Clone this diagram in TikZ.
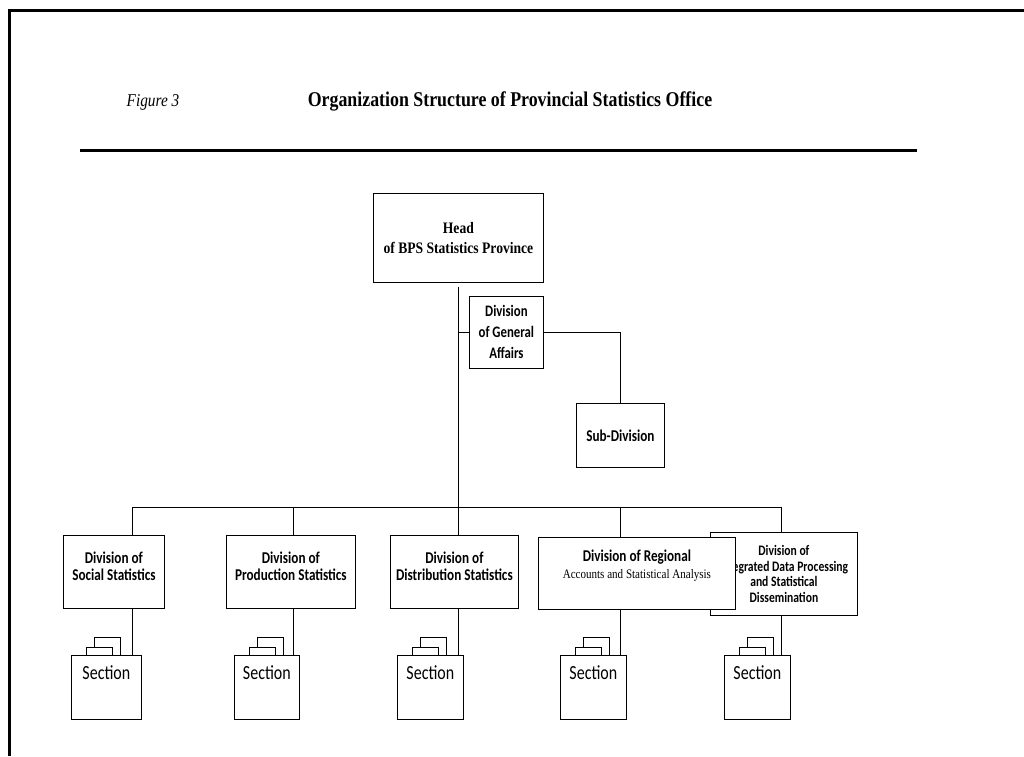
\documentclass[tikz,border=0pt]{standalone}
\usepackage{fontspec}
\setmainfont{Liberation Serif}[FakeStretch=0.85]
\newfontfamily\boxfont{Carlito}[FakeStretch=0.8]

\begin{document}
\begin{tikzpicture}[x=1pt,y=1pt,line width=.8pt,
  box/.style={draw,fill=white,inner sep=0pt,anchor=north west,align=center},
  divbox/.style={box,minimum height=73pt,font=\boxfont\bfseries\fontsize{16.5}{17}\selectfont},
  secbox/.style={box,minimum width=66pt,minimum height=64pt,font=\boxfont\fontsize{20}{20}\selectfont,text height=13pt,text depth=29pt},
  tab/.style={draw,fill=white}]
\useasboundingbox (0,0) rectangle (1024,-756);
\draw[line width=3pt] (9,-756) -- (9,-10) -- (1024,-10);
\node (fig) [anchor=base,font=\itshape\fontsize{18}{18}\selectfont] at (153,-106) {Figure 3};
\node (title) [anchor=base,font=\bfseries\fontsize{21}{21}\selectfont] at (510,-106) {Organization Structure of Provincial Statistics Office};
\draw[line width=3pt] (80,-150) -- (917,-150);

\node (head) [box,minimum width=170pt,minimum height=89pt,font=\bfseries\fontsize{16}{20}\selectfont] at (373,-193) {Head\\of BPS Statistics Province};
\node (gen) [box,minimum width=74pt,minimum height=72pt,font=\boxfont\bfseries\fontsize{16}{21}\selectfont] at (469,-296) {Division\\of General\\Affairs};
\node (sub) [divbox,minimum width=88pt,minimum height=64pt] at (576,-403) {Sub-Division};

\node (soc) [divbox,minimum width=101pt] at (63,-535) {Division of\\Social Statistics\\[-5pt]\mbox{}};
\node (prod) [divbox,minimum width=129pt] at (226,-535) {Division of\\Production Statistics\\[-5pt]\mbox{}};
\node (dist) [divbox,minimum width=128pt] at (390,-535) {Division of\\Distribution Statistics\\[-5pt]\mbox{}};
\node (integ) [divbox,minimum width=147pt,minimum height=83pt,font=\boxfont\bfseries\fontsize{14.5}{15.5}\selectfont] at (710,-532) {Division of\\Integrated Data Processing\\and Statistical\\Dissemination};
\node (reg) [divbox,minimum width=197pt,minimum height=72pt] at (538,-537) {Division of Regional\\{\rmfamily\mdseries\fontsize{13}{13}\selectfont Accounts and Statistical Analysis}\\[1pt]\mbox{}};

\node (sec1) [secbox,minimum width=70pt] at (71,-655) {Section};
\node (sec2) [secbox,minimum width=65pt] at (234,-655) {Section};
\node (sec3) [secbox] at (397,-655) {Section};
\node (sec4) [secbox] at (560,-655) {Section};
\node (sec5) [secbox] at (724,-655) {Section};

\coordinate (b1) at (132,-507);
\coordinate (b2) at (293,-507);
\coordinate (b3) at (head.south |- b1);
\coordinate (b4) at (sub.north |- b1);
\coordinate (b5) at (781,-507);

\draw[shorten <=4pt] (head.south) -- (b3);
\draw (gen.west) -- (gen.west -| head.south);
\draw (gen.east) -| (sub.north);
\draw (b1) -- (b5);

\draw (b1) -- (b1 |- soc.north);
\draw (b1 |- soc.south) -- (b1 |- sec1.north);
\draw[tab] ([xshift=23pt]sec1.north west) rectangle ++(26,18);
\draw[tab] ([xshift=15pt]sec1.north west) rectangle ++(26,8);

\draw (b2) -- (b2 |- prod.north);
\draw (b2 |- prod.south) -- (b2 |- sec2.north);
\draw[tab] ([xshift=23pt]sec2.north west) rectangle ++(26,18);
\draw[tab] ([xshift=15pt]sec2.north west) rectangle ++(26,8);

\draw (b3) -- (b3 |- dist.north);
\draw (b3 |- dist.south) -- (b3 |- sec3.north);
\draw[tab] ([xshift=23pt]sec3.north west) rectangle ++(26,18);
\draw[tab] ([xshift=15pt]sec3.north west) rectangle ++(26,8);

\draw (b4) -- (b4 |- reg.north);
\draw (b4 |- reg.south) -- (b4 |- sec4.north);
\draw[tab] ([xshift=23pt]sec4.north west) rectangle ++(26,18);
\draw[tab] ([xshift=15pt]sec4.north west) rectangle ++(26,8);

\draw (b5) -- (b5 |- integ.north);
\draw (b5 |- integ.south) -- (b5 |- sec5.north);
\draw[tab] ([xshift=23pt]sec5.north west) rectangle ++(26,18);
\draw[tab] ([xshift=15pt]sec5.north west) rectangle ++(26,8);
\end{tikzpicture}
\end{document}
